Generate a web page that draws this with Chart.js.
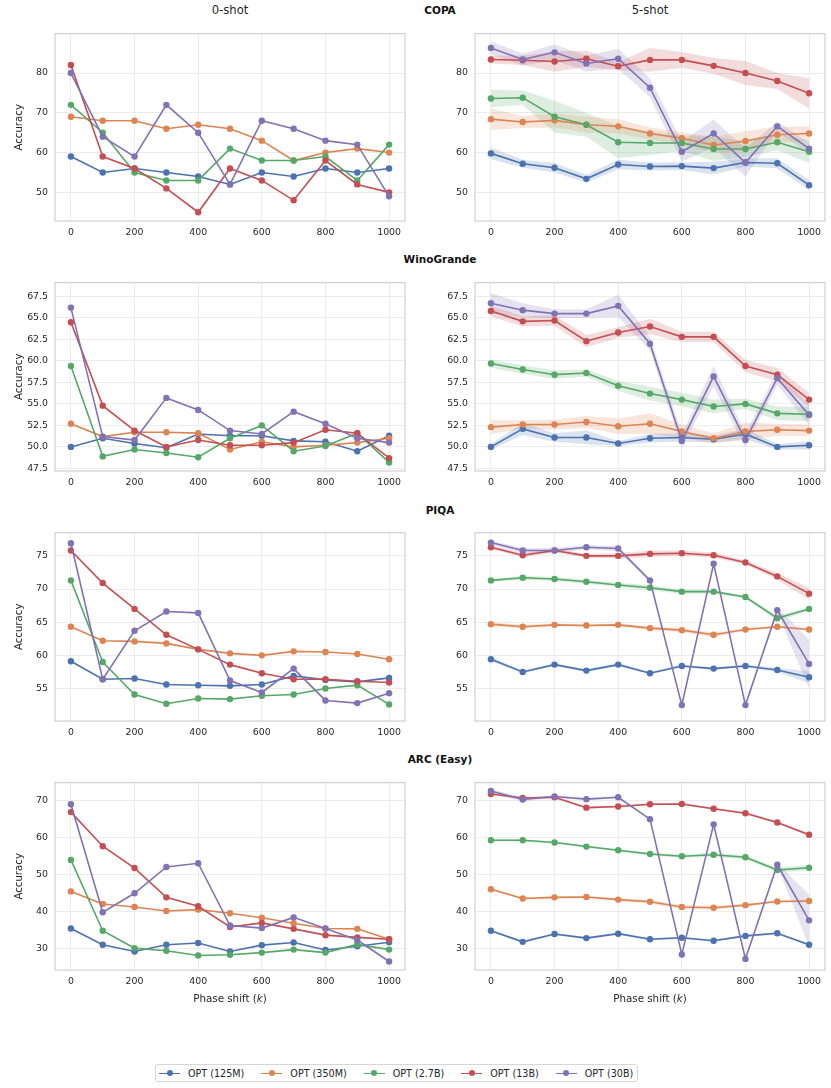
<!DOCTYPE html>
<html>
<head>
<meta charset="utf-8">
<script src="https://cdn.jsdelivr.net/npm/chart.js@4.4.0/dist/chart.umd.min.js"></script>
<style>
  html, body { margin:0; padding:0; background:#fff; }
  body { width:831px; height:1088px; position:relative; overflow:hidden; font-family:"DejaVu Sans", sans-serif; color:#262626; }
  canvas { position:absolute; }
  .t { position:absolute; white-space:nowrap; transform:translate(-50%,-50%); line-height:1; }
  .col-title { font-size:11.6px; }
  .row-title { font-size:10.5px; font-weight:bold; color:#111; }
  .x-title { font-size:10.3px; }
  #legend { position:absolute; left:155px; top:1064px; height:18px; border:1px solid #d6d6d6; border-radius:3px;
            display:flex; align-items:center; padding-left:3px; padding-right:0; box-sizing:border-box; font-size:9.6px; white-space:nowrap; }
  .li { display:flex; align-items:center; margin-right:17px; flex-shrink:0; white-space:nowrap; }
  .li:last-child { margin-right:4px; }
  .ls { position:relative; width:21px; height:0; border-top:1.5px solid; margin-right:8px; flex-shrink:0; }
  .ld { position:absolute; left:7.5px; top:-3.9px; width:6.2px; height:6.2px; border-radius:50%; }
</style>
</head>
<body>

<script>
// ---------------- DATA ----------------
const phaseShift = [0, 100, 200, 300, 400, 500, 600, 700, 800, 900, 1000];
const xTicks = [0, 200, 400, 600, 800, 1000];
const seriesNames = ['OPT (125M)', 'OPT (350M)', 'OPT (2.7B)', 'OPT (13B)', 'OPT (30B)'];
const seriesColors = ['#4C72B0', '#DD8452', '#55A868', '#C44E52', '#8172B3'];

const copaTicks = [50, 60, 70, 80];
const winoTicks = [47.5, 50, 52.5, 55, 57.5, 60, 62.5, 65, 67.5];
const piqaTicks = [55, 60, 65, 70, 75];
const arcTicks  = [30, 40, 50, 60, 70];

// COPA
const copa0 = [
  [59, 55, 56, 55, 54, 52, 55, 54, 56, 55, 56],
  [69, 68, 68, 66, 67, 66, 63, 58, 60, 61, 60],
  [72, 65, 55, 53, 53, 61, 58, 58, 59, 53, 62],
  [82, 59, 56, 51, 45, 56, 53, 48, 58, 52, 50],
  [80, 64, 59, 72, 65, 52, 68, 66, 63, 62, 49]
];
const copa5 = [
  [59.8, 57.2, 56.2, 53.4, 57.0, 56.5, 56.6, 56.1, 57.5, 57.3, 51.8],
  [68.4, 67.7, 68.1, 67.0, 66.6, 64.8, 63.6, 61.9, 62.9, 64.5, 64.8],
  [73.6, 73.8, 69.0, 67.0, 62.6, 62.4, 62.4, 60.9, 60.9, 62.6, 60.2],
  [83.4, 83.2, 82.9, 83.6, 81.7, 83.3, 83.3, 81.8, 80.0, 78.0, 74.9],
  [86.3, 83.4, 85.2, 82.4, 83.6, 76.3, 60.2, 64.8, 57.5, 66.6, 61.0]
];
const copa5Err = [
  [1.5, 1.0, 1.2, 1.0, 1.2, 1.0, 1.0, 1.6, 1.0, 1.3, 1.3],
  [2.7, 1.5, 1.8, 2.0, 1.8, 1.5, 1.5, 2.0, 2.5, 2.0, 1.8],
  [2.2, 1.8, 4.0, 3.0, 4.0, 3.0, 2.0, 3.0, 2.0, 2.0, 2.8],
  [1.0, 1.2, 2.6, 2.0, 1.0, 3.0, 2.0, 2.0, 3.0, 2.0, 3.8],
  [1.6, 1.5, 2.0, 2.0, 2.5, 2.4, 2.5, 3.5, 3.5, 1.2, 1.5]
];

// WinoGrande
const wino0 = [
  [50.0, 51.0, 50.4, 49.9, 51.5, 51.3, 51.3, 50.7, 50.6, 49.5, 51.3],
  [52.7, 51.2, 51.7, 51.7, 51.6, 49.7, 50.6, 50.0, 50.2, 50.5, 51.0],
  [59.4, 48.9, 49.7, 49.3, 48.8, 51.0, 52.5, 49.5, 50.1, 51.6, 48.2],
  [64.5, 54.8, 51.9, 50.0, 50.8, 50.2, 50.2, 50.5, 52.0, 51.6, 48.7],
  [66.2, 51.2, 50.8, 55.7, 54.3, 51.9, 51.5, 54.1, 52.7, 51.0, 50.5]
];
const wino5 = [
  [50.0, 52.1, 51.1, 51.1, 50.4, 51.0, 51.1, 50.9, 51.5, 50.0, 50.2],
  [52.3, 52.6, 52.6, 52.9, 52.4, 52.7, 51.8, 51.0, 51.8, 52.0, 51.9],
  [59.7, 59.0, 58.4, 58.6, 57.1, 56.2, 55.5, 54.7, 55.0, 53.9, 53.8],
  [65.8, 64.6, 64.7, 62.3, 63.3, 64.0, 62.8, 62.8, 59.4, 58.4, 55.5],
  [66.7, 65.9, 65.5, 65.5, 66.4, 62.0, 50.7, 58.2, 50.8, 58.0, 53.7]
];
const wino5Err = [
  [0.3, 0.7, 0.5, 0.8, 0.3, 0.5, 0.5, 0.4, 0.6, 0.3, 0.5],
  [0.8, 0.5, 0.6, 0.7, 0.9, 1.2, 0.8, 0.6, 1.0, 0.7, 0.7],
  [0.5, 0.5, 0.5, 0.4, 0.6, 0.8, 0.8, 0.8, 0.6, 0.8, 0.8],
  [0.6, 0.6, 0.6, 0.7, 0.6, 0.9, 0.6, 0.6, 0.7, 0.8, 0.8],
  [1.2, 0.8, 0.5, 0.5, 1.3, 0.8, 0.8, 1.2, 0.8, 0.8, 1.2]
];

// PIQA
const piqa0 = [
  [59.1, 56.4, 56.5, 55.6, 55.5, 55.4, 55.6, 56.9, 56.3, 56.0, 56.6],
  [64.3, 62.2, 62.1, 61.8, 60.9, 60.3, 60.0, 60.6, 60.5, 60.2, 59.4],
  [71.3, 59.0, 54.1, 52.7, 53.5, 53.4, 53.9, 54.1, 55.0, 55.5, 52.6],
  [75.8, 70.9, 67.0, 63.1, 60.9, 58.6, 57.3, 56.4, 56.4, 56.1, 55.9],
  [76.9, 56.4, 63.7, 66.6, 66.4, 56.2, 54.4, 58.0, 53.2, 52.8, 54.3]
];
const piqa5 = [
  [59.4, 57.5, 58.6, 57.7, 58.6, 57.3, 58.4, 58.0, 58.4, 57.8, 56.7],
  [64.7, 64.3, 64.6, 64.5, 64.6, 64.1, 63.8, 63.1, 63.9, 64.3, 63.9],
  [71.3, 71.7, 71.5, 71.1, 70.6, 70.2, 69.6, 69.6, 68.8, 65.6, 67.0],
  [76.3, 75.1, 75.8, 75.0, 75.0, 75.3, 75.4, 75.1, 74.0, 71.9, 69.3],
  [77.0, 75.8, 75.8, 76.3, 76.1, 71.3, 52.5, 73.8, 52.5, 66.8, 58.7]
];
const piqa5Err = [
  [0.3, 0.2, 0.2, 0.2, 0.2, 0.2, 0.2, 0.2, 0.2, 0.3, 0.9],
  [0.3, 0.3, 0.2, 0.2, 0.2, 0.3, 0.3, 0.4, 0.2, 0.2, 0.2],
  [0.2, 0.3, 0.3, 0.3, 0.3, 0.4, 0.3, 0.3, 0.2, 0.4, 0.3],
  [0.3, 0.3, 0.3, 0.3, 0.4, 0.5, 0.4, 0.4, 0.3, 0.5, 0.9],
  [0.3, 0.4, 0.4, 0.3, 0.4, 0.3, 0.3, 0.3, 0.3, 0.4, 3.7]
];

// ARC (Easy)
const arc0 = [
  [35.5, 31.1, 29.3, 31.1, 31.6, 29.3, 31.0, 31.7, 29.7, 30.7, 31.8],
  [45.5, 42.1, 41.3, 40.2, 40.6, 39.6, 38.4, 36.9, 35.5, 35.4, 32.6],
  [54.0, 34.9, 30.2, 29.5, 28.2, 28.4, 29.0, 29.8, 29.0, 31.2, 29.8],
  [66.9, 57.7, 51.8, 43.9, 41.5, 35.9, 37.0, 35.4, 33.7, 33.1, 32.6],
  [69.0, 39.9, 45.0, 52.1, 53.1, 36.3, 35.6, 38.5, 35.5, 32.4, 26.6]
];
const arc5 = [
  [34.9, 31.9, 34.0, 32.9, 34.1, 32.6, 33.0, 32.2, 33.5, 34.2, 31.1],
  [46.1, 43.6, 43.9, 44.0, 43.3, 42.7, 41.3, 41.1, 41.8, 42.8, 42.9],
  [59.3, 59.3, 58.7, 57.6, 56.6, 55.6, 55.0, 55.4, 54.7, 51.3, 51.9],
  [71.8, 70.7, 70.9, 68.1, 68.4, 69.0, 69.1, 67.8, 66.6, 64.1, 60.8],
  [72.6, 70.3, 71.1, 70.4, 70.9, 65.0, 28.5, 63.6, 27.3, 52.7, 37.7]
];
const arc5Err = [
  [0.3, 0.3, 0.3, 0.3, 0.3, 0.3, 0.3, 0.3, 0.3, 0.3, 0.3],
  [0.3, 0.3, 0.3, 0.3, 0.4, 0.5, 0.6, 0.5, 0.4, 0.3, 0.3],
  [0.3, 0.3, 0.3, 0.3, 0.3, 0.4, 0.4, 0.6, 0.5, 0.6, 0.8],
  [0.3, 0.3, 0.3, 0.3, 0.3, 0.3, 0.3, 0.3, 0.3, 0.3, 0.4],
  [0.5, 0.6, 0.3, 0.3, 0.3, 0.3, 0.3, 0.3, 0.3, 0.4, 7.0]
];

const rowTitles = ['COPA', 'WinoGrande', 'PIQA', 'ARC (Easy)'];
const colTitles = ['0-shot', '5-shot'];

// ---------------- LAYOUT ----------------
const FONT = '"DejaVu Sans", sans-serif';
const plotLeft = [55, 475];
const plotW = 350;
const rowTop = [29, 278, 528, 778];
const rowBot = [221, 471, 721, 970];
const rowRange = [[42.8, 89.9], [47.2, 69.1], [50.1, 78.5], [24.3, 74.85]];
const rowTicks = [copaTicks, winoTicks, piqaTicks, arcTicks];
const rowData = [[copa0, copa5, copa5Err], [wino0, wino5, wino5Err], [piqa0, piqa5, piqa5Err], [arc0, arc5, arc5Err]];

function hexA(hex, a) {
  const n = parseInt(hex.slice(1), 16);
  return `rgba(${(n >> 16) & 255},${(n >> 8) & 255},${n & 255},${a})`;
}

const boxPlugin = {
  id: 'box',
  afterDatasetsDraw(chart) {
    const {ctx, chartArea: a} = chart;
    ctx.save();
    ctx.strokeStyle = '#d0d0d0';
    ctx.lineWidth = 1.2;
    ctx.strokeRect(a.left, a.top, a.right - a.left, a.bottom - a.top);
    ctx.restore();
  }
};

function makeChart(row, col) {
  const padT = 8, padR = 8, yW = 55, xH = 30;
  const left = plotLeft[col] - yW;
  const top = rowTop[row] - padT;
  const w = yW + plotW + padR;
  const h = padT + (rowBot[row] - rowTop[row]) + xH;
  const cv = document.createElement('canvas');
  cv.width = w; cv.height = h;
  cv.style.left = left + 'px'; cv.style.top = top + 'px';
  cv.style.width = w + 'px'; cv.style.height = h + 'px';
  document.body.appendChild(cv);

  const means = rowData[row][col];
  const errs = col === 1 ? rowData[row][2] : null;
  const datasets = [];
  means.forEach((vals, i) => {
    if (errs) {
      datasets.push({
        data: phaseShift.map((x, k) => ({x, y: vals[k] + errs[i][k]})),
        borderWidth: 0, pointRadius: 0, fill: false, order: 20 + i,
        borderColor: 'rgba(0,0,0,0)'
      });
      datasets.push({
        data: phaseShift.map((x, k) => ({x, y: vals[k] - errs[i][k]})),
        borderWidth: 0, pointRadius: 0, fill: '-1', order: 20 + i,
        borderColor: 'rgba(0,0,0,0)', backgroundColor: hexA(seriesColors[i], 0.2)
      });
    }
  });
  means.forEach((vals, i) => {
    datasets.push({
      label: seriesNames[i],
      data: phaseShift.map((x, k) => ({x, y: vals[k]})),
      borderColor: seriesColors[i],
      backgroundColor: seriesColors[i],
      pointBackgroundColor: seriesColors[i],
      pointBorderWidth: 0,
      pointRadius: 3.2,
      borderWidth: 1.6,
      tension: 0,
      fill: false,
      order: 5 - i
    });
  });

  const ticks = rowTicks[row];
  new Chart(cv, {
    type: 'line',
    data: {datasets},
    plugins: [boxPlugin],
    options: {
      responsive: false,
      animation: false,
      devicePixelRatio: 1,
      layout: {padding: {top: padT, right: padR, left: 0, bottom: 0}},
      plugins: {legend: {display: false}, tooltip: {enabled: false}, filler: {drawTime: 'beforeDatasetsDraw'}},
      scales: {
        x: {
          type: 'linear', min: -50, max: 1050,
          afterBuildTicks: s => { s.ticks = xTicks.map(v => ({value: v})); },
          afterFit: s => { s.height = xH; },
          grid: {color: '#ececec', lineWidth: 1, drawTicks: false},
          border: {display: false},
          ticks: {padding: 6, color: '#262626', font: {size: 9.4, family: FONT}, maxRotation: 0, autoSkip: false,
                  callback: v => String(v)}
        },
        y: {
          type: 'linear', min: rowRange[row][0], max: rowRange[row][1],
          afterBuildTicks: s => { s.ticks = ticks.map(v => ({value: v})); },
          afterFit: s => { s.width = yW; },
          grid: {color: '#ececec', lineWidth: 1, drawTicks: false},
          border: {display: false},
          ticks: {
            padding: 7, color: '#262626', font: {size: 9.4, family: FONT}, autoSkip: false,
            callback: v => row === 1 ? Number(v).toFixed(1) : String(v)
          },
          title: {display: col === 0, text: 'Accuracy', color: '#262626',
                  font: {size: 10.2, family: FONT}, padding: {top: 13, bottom: 0}}
        }
      }
    }
  });
}

for (let r = 0; r < 4; r++) for (let c = 0; c < 2; c++) makeChart(r, c);

// ---------------- TEXT ----------------
function addText(txt, cls, x, y, html) {
  const d = document.createElement('div');
  d.className = 't ' + cls;
  if (html) d.innerHTML = txt; else d.textContent = txt;
  d.style.left = x + 'px'; d.style.top = y + 'px';
  document.body.appendChild(d);
}
addText(colTitles[0], 'col-title', 230, 11);
addText(colTitles[1], 'col-title', 650, 11);
const rowTitleY = [10, 259, 509.5, 759];
rowTitles.forEach((t, i) => addText(t, 'row-title', 440, rowTitleY[i]));
addText('Phase shift (<i>k</i>)', 'x-title', 230, 998, true);
addText('Phase shift (<i>k</i>)', 'x-title', 650, 998, true);

// legend
const lg = document.createElement('div');
lg.id = 'legend';
seriesNames.forEach((n, i) => {
  const it = document.createElement('div'); it.className = 'li';
  const s = document.createElement('span'); s.className = 'ls'; s.style.borderTopColor = seriesColors[i];
  const dot = document.createElement('span'); dot.className = 'ld'; dot.style.background = seriesColors[i];
  s.appendChild(dot);
  const tx = document.createElement('span'); tx.textContent = n;
  it.appendChild(s); it.appendChild(tx);
  lg.appendChild(it);
});
document.body.appendChild(lg);
</script>
</body>
</html>
